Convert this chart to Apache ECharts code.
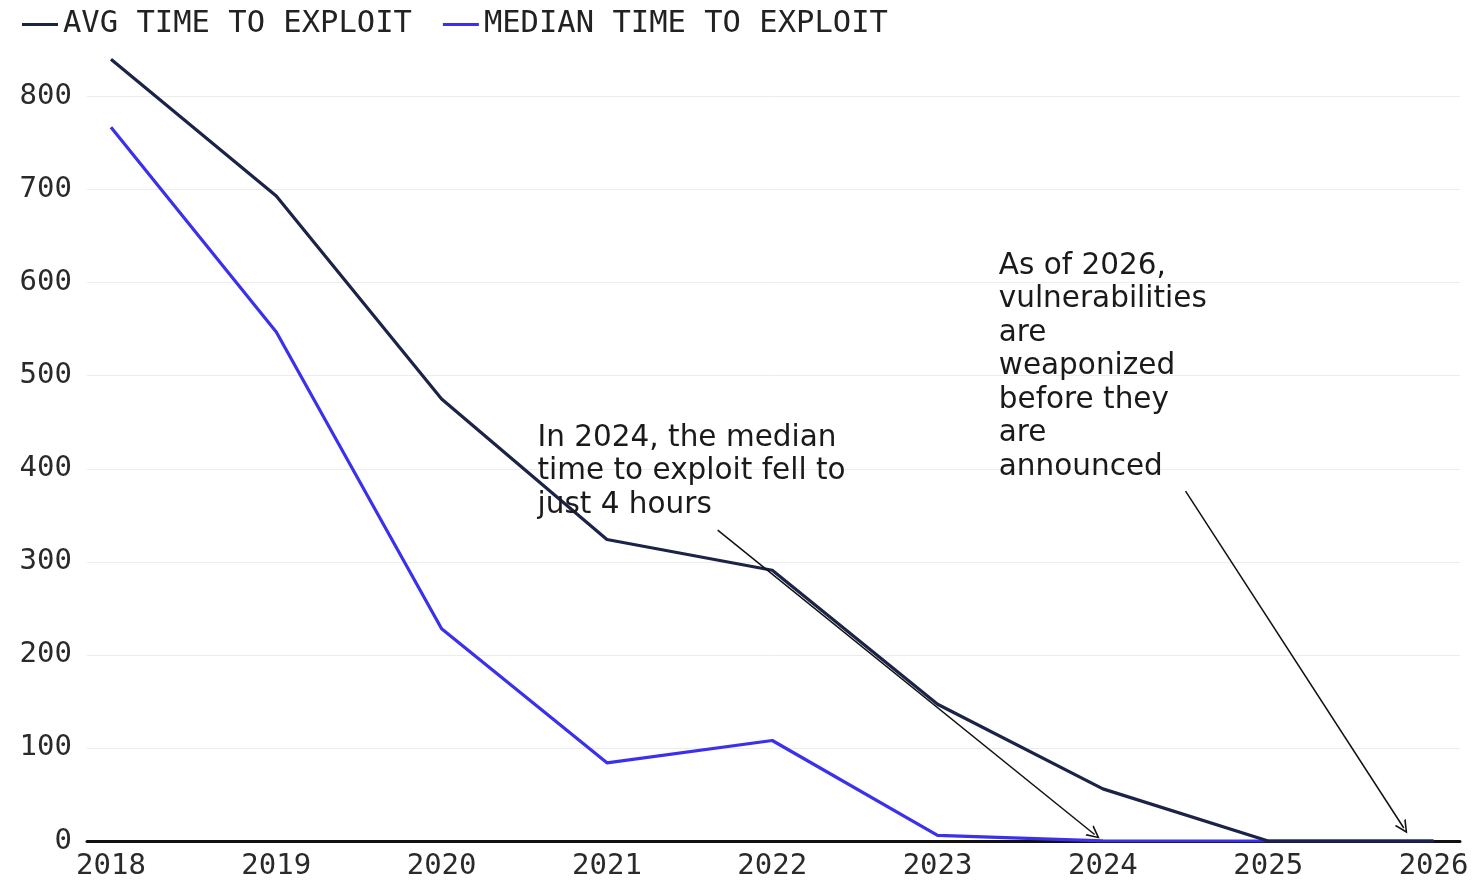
<!DOCTYPE html>
<html>
<head>
<meta charset="utf-8">
<script src="https://cdn.jsdelivr.net/npm/echarts@6/dist/echarts.min.js"></script>
<style>
html,body{margin:0;padding:0;background:#fff;}
#chart{width:1473px;height:881px;}
</style>
</head>
<body>
<div id="chart"></div>
<script>
var years = [2018, 2019, 2020, 2021, 2022, 2023, 2024, 2025, 2026];
var avgTime = [840, 693, 475, 324, 291, 147, 56, 0, 0];
var medianTime = [767, 547, 228, 84, 108, 6, 0.17, 0, 0];
var yTicks = [0, 100, 200, 300, 400, 500, 600, 700, 800];
var seriesNames = ['AVG TIME TO EXPLOIT', 'MEDIAN TIME TO EXPLOIT'];
var note1 = 'In 2024, the median\ntime to exploit fell to\njust 4 hours';
var note2 = 'As of 2026,\nvulnerabilities\nare\nweaponized\nbefore they\nare\nannounced';
var note1At = [2020.58, 451];
var note2At = [2023.37, 636];
var arrow1 = [[2021.67, 334], [2023.95, 7]];
var arrow2 = [[2024.50, 376], [2025.82, 14]];

function pairs(xs, ys) { return xs.map(function (x, i) { return [x, ys[i]]; }); }

var chart = echarts.init(document.getElementById('chart'));
var chevron = 'path://M5,0 L10,10 L8.6,10 L5,2.6 L1.4,10 L0,10 Z';
var annFont = { fontFamily: 'DejaVu Sans', fontSize: 29.5, lineHeight: 33.5, color: '#1a1a1a' };
var monoFont = { fontFamily: 'DejaVu Sans Mono', fontSize: 29, color: '#2a2a2a' };

chart.setOption({
  animation: false,
  backgroundColor: '#fff',
  legend: {
    left: 17, top: 4,
    itemWidth: 36, itemHeight: 3, itemGap: 31,
    icon: 'rect',
    textStyle: { fontFamily: 'DejaVu Sans Mono', fontSize: 30.5, color: '#222' },
    data: seriesNames
  },
  grid: { left: 87, right: 13, top: 50, bottom: 38, containLabel: false },
  xAxis: {
    type: 'value', min: 2017.855, max: 2026.16,
    axisLine: { show: true, lineStyle: { color: '#111', width: 3 } },
    axisTick: { show: false },
    splitLine: { show: false },
    axisLabel: Object.assign({
      customValues: years, margin: 11,
      formatter: function (v) { return String(Math.round(v)); }
    }, monoFont)
  },
  yAxis: {
    type: 'value', min: 0, max: 850, interval: 100,
    axisLine: { show: false },
    axisTick: { show: false },
    splitLine: { show: true, showMaxLine: false, lineStyle: { color: '#ececec', width: 1 } },
    axisLabel: Object.assign({ showMaxLabel: false, margin: 15 }, monoFont)
  },
  series: [
    {
      name: seriesNames[0], type: 'line', z: 3,
      data: pairs(years, avgTime),
      symbol: 'none',
      lineStyle: { color: '#1c2349', width: 3.2 },
      itemStyle: { color: '#1c2349' },
      markLine: {
        silent: true, animation: false,
        symbol: ['none', chevron], symbolSize: [13, 13],
        label: { show: false },
        lineStyle: { color: '#111', width: 1.5, type: 'solid' },
        data: [
          [{ coord: arrow1[0] }, { coord: arrow1[1] }],
          [{ coord: arrow2[0] }, { coord: arrow2[1] }]
        ]
      },
      markPoint: {
        silent: true, animation: false,
        symbol: 'circle', symbolSize: 0,
        label: Object.assign({ show: true, position: [0, 0], align: 'left', verticalAlign: 'top' }, annFont),
        data: [
          { coord: note1At, value: note1, label: { formatter: note1 } },
          { coord: note2At, value: note2, label: { formatter: note2 } }
        ]
      }
    },
    {
      name: seriesNames[1], type: 'line', z: 2,
      data: pairs(years, medianTime),
      symbol: 'none',
      lineStyle: { color: '#3a30ee', width: 3.2 },
      itemStyle: { color: '#3a30ee' }
    }
  ]
});
</script>
</body>
</html>
